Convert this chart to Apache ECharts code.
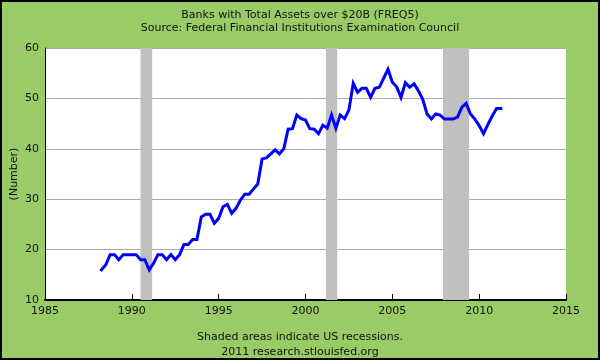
<!DOCTYPE html>
<html>
<head>
<meta charset="utf-8">
<script src="https://cdn.jsdelivr.net/npm/echarts@6/dist/echarts.min.js"></script>
<style>
html,body{margin:0;padding:0;background:#99CC66;}
#c{width:600px;height:360px;}
</style>
</head>
<body>
<div id="c"></div>
<script>
// Quarterly observations, first one at quarter end 1988Q1
const firstQuarterEnd = 1988.25;
const quarterStep = 0.25;
const banks = [
  16, 17, 19, 19, 18, 19, 19, 19, 19, 18,
  18, 16, 17.3, 19, 19, 18, 19, 18, 19, 21,
  21, 22, 22, 26.5, 27, 27, 25.2, 26.2, 28.5, 29,
  27.2, 28.2, 29.8, 31, 31, 32, 33, 38, 38.2, 39,
  39.8, 39, 40, 43.9, 44, 46.7, 46, 45.7, 44, 43.9,
  43, 44.7, 44.1, 46.7, 44.1, 46.7, 46, 47.7, 53, 51.2,
  52, 52, 50.2, 52, 52.2, 54, 55.8, 53.2, 52.3, 50.2,
  53.1, 52.2, 52.9, 51.5, 49.8, 46.9, 45.9, 46.9, 46.7, 45.9,
  45.9, 45.9, 46.3, 48.2, 49, 46.9, 45.9, 44.6, 43, 44.8,
  46.5, 48, 48
];
const recessions = [[1990.5, 1991.17], [2001.17, 2001.83], [2007.92, 2009.42]];
const xTicks = [1985, 1990, 1995, 2000, 2005, 2010, 2015];
const yTicks = [10, 20, 30, 40, 50, 60];

const titleText = 'Banks with Total Assets over $20B (FREQ5)';
const subtitleText = 'Source: Federal Financial Institutions Examination Council';
const footer1 = 'Shaded areas indicate US recessions.';
const footer2 = '2011 research.stlouisfed.org';

const points = banks.map((v, i) => [firstQuarterEnd + i * quarterStep, v]);
const font = 'DejaVu Sans, Verdana, sans-serif';

const chart = echarts.init(document.getElementById('c'), null, {renderer: 'canvas'});
chart.setOption({
  animation: false,
  backgroundColor: '#99CC66',
  textStyle: {fontFamily: font},
  grid: {left: 45, right: 34, top: 48, bottom: 60, show: true, backgroundColor: '#FFFFFF', borderWidth: 0,
         containLabel: false, outerBoundsMode: 'none'},
  title: [
    {text: titleText, left: 'center', top: 5, textStyle: {fontSize: 11, fontWeight: 'normal', color: '#111', fontFamily: font}},
    {text: subtitleText, left: 'center', top: 18, textStyle: {fontSize: 11, fontWeight: 'normal', color: '#111', fontFamily: font}},
    {text: footer1, left: 'center', top: 327, textStyle: {fontSize: 11, fontWeight: 'normal', color: '#111', fontFamily: font}},
    {text: footer2, left: 'center', top: 342, textStyle: {fontSize: 11, fontWeight: 'normal', color: '#111', fontFamily: font}}
  ],
  xAxis: {
    type: 'value', min: xTicks[0], max: xTicks[xTicks.length - 1], interval: 5,
    axisLine: {show: true, onZero: false, lineStyle: {color: '#000', width: 2}},
    axisTick: {show: true, inside: true, length: 6, lineStyle: {color: '#000', width: 1}},
    axisLabel: {color: '#111', fontSize: 11, margin: 6, fontFamily: font, formatter: v => String(v)},
    splitLine: {show: false}
  },
  yAxis: {
    type: 'value', min: yTicks[0], max: yTicks[yTicks.length - 1], interval: 10,
    name: '(Number)', nameLocation: 'middle', nameGap: 25, nameRotate: 90, nameMoveOverlap: false,
    nameTextStyle: {color: '#111', fontSize: 11, fontFamily: font},
    axisLine: {show: true, lineStyle: {color: '#000', width: 1}},
    axisTick: {show: false},
    axisLabel: {color: '#111', fontSize: 11, margin: 6, fontFamily: font},
    splitLine: {show: true, lineStyle: {color: '#AAAAAA', width: 1}}
  },
  series: [{
    type: 'line',
    data: points,
    showSymbol: false,
    lineStyle: {color: '#0000FF', width: 3, cap: 'square', join: 'miter'},
    z: 3,
    markArea: {
      silent: true,
      itemStyle: {color: '#C0C0C0', opacity: 1},
      data: recessions.map(r => [{xAxis: r[0]}, {xAxis: r[1]}])
    }
  }],
  graphic: [{
    type: 'rect', shape: {x: 1, y: 1, width: 598, height: 358},
    style: {fill: null, stroke: '#000', lineWidth: 2}, silent: true, z: 100
  }]
});
</script>
</body>
</html>
